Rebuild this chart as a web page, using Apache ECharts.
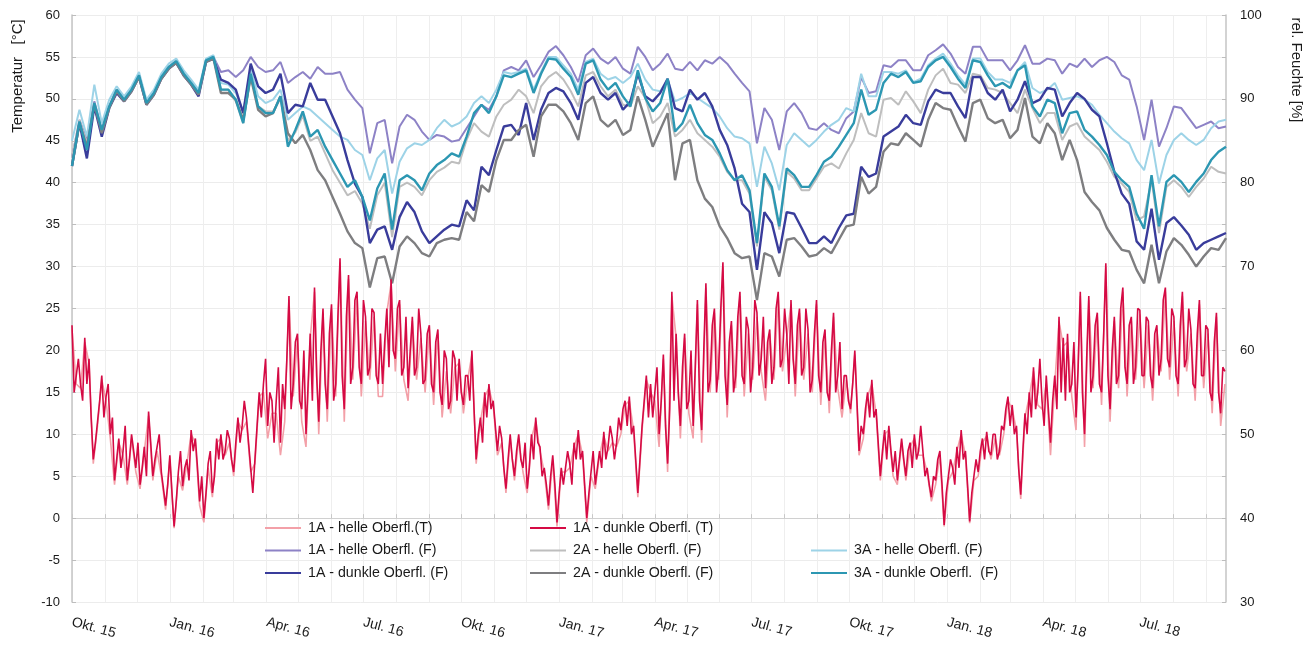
<!DOCTYPE html>
<html><head><meta charset="utf-8">
<script src="https://cdn.jsdelivr.net/npm/echarts@6/dist/echarts.min.js"></script>
<style>html,body{margin:0;padding:0;background:#fff}#c{width:1309px;height:650px}</style>
</head><body><div id="c"></div>
<script>
// ---- time frame ----
const startDateUTC = [2015, 9, 1];   // 1 Oct 2015
const endDateUTC = [2018, 8, 20];    // 20 Sep 2018
const tempDarkStepDays = 2;          // dark-surface temperature every 2 days
const tempLightStepDays = 4;         // light-surface temperature every 4 days
const humStepDays = 7;               // humidity readings every 7 days

// ---- x tick labels (quarter starts) ----
const tickDates = ['2015-10-01','2016-01-01','2016-04-01','2016-07-01','2016-10-01','2017-01-01','2017-04-01','2017-07-01','2017-10-01','2018-01-01','2018-04-01','2018-07-01'];
const tickLabels = ['Okt. 15','Jan. 16','Apr. 16','Jul. 16','Okt. 16','Jan. 17','Apr. 17','Jul. 17','Okt. 17','Jan. 18','Apr. 18','Jul. 18'];

// ---- series names ----
const names = {
  tHell1A: '1A - helle Oberfl.(T)',
  tDunkel1A: '1A - dunkle Oberfl. (T)',
  fHell1A: '1A - helle Oberfl. (F)',
  fHell2A: '2A - helle Oberfl. (F)',
  fHell3A: '3A - helle Oberfl. (F)',
  fDunkel1A: '1A - dunkle Oberfl. (F)',
  fDunkel2A: '2A - dunkle Oberfl. (F)',
  fDunkel3A: '3A - dunkle Oberfl.  (F)'
};

// ---- temperature [°C] ----
const temp1A_dunkel = [
 23,15,17,19,16,14,21.5,16,19,12,7,9,11.5,14,17,12,14.5,16,10,12,4.5,7,9.5,6,8,11,4.5,7,10,8,6,9,4,6,8.5,5,12.7,9,5,7,8.5,10,5.5,3.5,1.5,4,7.5,3,-1,2,5.5,8,3.8,6,7,4.5,10.5,8,9.5,6,2,5,0,3,6.5,8,3,5,9.5,7,10,7,8,10.5,9.5,7,5.5,9,12,9,11,14,12,9,6,3,7,11,15,12,
 16,19,11,15,14,9,14,18,9,16,13,19,26.5,13,16,21,22,14,13,20,10,16,22,14,27.5,17,11.5,20,25,16,13,22,25.5,14,16,24,31,17,13,24,29,16,18,26,27,18,16,26,24,17,18,25,24.5,17,16,22,16,21,25,18,28.5,20,19,25,26,17,18,24,15.5,20,24,17,18,25,22,16,16.5,22,23,16,15,21,22.5,15,13.5,20,19,13,14,20,19,14,
 19,15,13.5,17,17,14,20,13,7,10,12,9,15,12,16,13,14,11,8,11,9.5,6,3.5,7,10,7,5,8,10,7,6,9,3.5,6,10,7,12,9,8.5,5,6,4,1.5,5,7.5,4,-0.5,3,6,4,6,8,6.5,4,9,7,10.5,7,8,4,0,3,5.5,8,4,6,8,6,10.3,7,8.5,11,9.5,7,9,12,10.5,13,14,11,14.5,10,11,7,3,7,11,14,17,12,
 16,12,15,18,10,14,19.5,11,6.5,13,27,14,22,15,11,18,22,13,14,20,11,18,26,14,10.5,20,28,15,16.5,23,25,15,18,25,30.5,17,13.5,21,23.5,15,17,24,27,17,16,24,22.5,15,18,26,24.5,17,19,24,15.5,21,22.5,16,18,25,27,18,19,25,22,16,26,19,16,23,25,17,18,25,22.5,15,16.5,22,26,17,15,21,22.5,15,14,20,24.5,15,17,21,13,17,
 17,14,13,16,20,14,8,11,10,13,15,12,16.5,12,13,9,5,8,10.5,7,11,8,5.5,8,4.5,7,9.5,7,5,8,9,6,10,7,8,11,8,5,6,4,2.5,5,4.5,7,8,4,-0.8,3,5,7,6,4,8.5,6,10.5,7,8,4,-0.4,3,5,7,5.5,8,9.5,7,10.3,8,7.5,10,10,7,8,11,10.5,13,14.5,11,13.5,10,11,6,2.8,8,12.5,10,15,12,18,13,
 15,19,14,11,17,13,9,14,17,13,24,15,21.5,14,22,15,16,21,12,18,27,15,10,19,26.5,15,17,23,24.5,16,15,22,30.4,17,13,20,24,16,17,25,27.5,18,16,23,24,16,18,25,24.8,17,17,24,23.5,17,15.5,22,23,17,19,26,27.5,19,18,25,24,17,16,23,27,18,19,25,22.5,16,15.5,22,26,17,17,23,22.5,15,14,21,24.5,15,12.5,18,17.5
];
const temp1A_hell = [
 22.5,16,15.5,21,18.5,6.5,11,16.5,14,9.5,4,9,7.5,4,9.5,5.5,3.5,8,12.2,4.5,8,5,1,7,-1.2,5,3.3,6.5,10,9,1.5,-0.5,6,2.5,9,9.5,7.5,9,5,11.5,10.5,11.5,5.5,6.5,14.5,
 15,9.5,12.5,12.5,7.5,11.5,26,14.5,21.5,11.5,8.5,21.5,27,10,24.5,11.5,25,14.5,30.5,11.5,28.5,16.5,26.5,14.5,23.5,16.5,24,14.5,14.5,24.5,28,17.5,25.5,16.5,14,23.5,16.5,21.5,15,22.5,13.5,22,12,17.5,12.5,18,
 18.5,12.5,16.5,19.5,6.5,11.5,14.5,15.5,13.5,7.5,9,3,9.5,4.5,9.5,5.5,3,9.5,11.5,8,5.5,1,7,-1,5.5,5.5,6,8.5,10,7.5,-0.5,5,3.5,7.5,9.8,8,9,8.5,10,13.5,14,10.5,2.5,10.5,16.5,
 15,14,8.5,19,5.5,26.5,21.5,9.5,21.5,12.5,9.5,25.5,9,27.5,15,24.5,16.5,30,12,23,15.5,26.5,14.5,22,16.5,24,17.5,14,22,16.5,26.5,17.5,21.5,25.5,14.5,24.5,16.5,22,15,25.5,13.5,22,12.5,24,15.5,12,
 16.5,12.5,19.5,7.5,9.5,14.5,16,12.5,4.5,10,10.5,5,4,9,4.5,8.5,9.5,7.5,7.5,5.5,2,4,7.5,-1,4.5,5.5,8,10,7.5,-0.6,4.5,5,9,9.8,7,9.5,7.5,10,14,13,10.5,2.3,12,14.5,17.5,
 13.5,13,16,7.5,16,23.5,20.5,21,14.5,10.5,26.5,8.5,26,15.5,24,13.5,30,11.5,23.5,15.5,27,14.5,23.5,16.5,24.3,15.5,23,14,22.5,17.5,27,16.5,23.5,14.5,26.5,17.5,22,14,25.5,15.5,22,12.5,24,11,16
];

// ---- relative humidity [%], every 7 days ----
const rh1A_hell = [
 83,87.5,85.1,89.7,86.3,89.1,91.1,89.9,91.1,92.8,89.5,90.7,92.6,93.8,94.5,93,91.9,90.7,94.6,95,93.2,93.4,92.6,93.4,95,93.8,
 93.2,93.4,94.4,91.9,92.6,93.2,92.4,93.8,93,93,93.2,91.1,89.9,88.9,83.5,87.1,87.5,82.3,86.7,88.1,87.5,86.1,85.1,85.7,85.5,84.9,
 85.1,86.5,87.9,89.3,88.7,90.3,93.4,93.8,93.4,94.6,92.6,94,95.6,96.3,95.2,93.8,92,95.2,96,94.8,94.2,95,93.6,93,96.2,95,
 93.4,94.2,95.4,93.6,93.4,94.4,93.4,94.6,94.2,95,94.2,93,91.9,90.9,84.7,88.9,87.5,83.9,88.5,89.5,88.3,86.5,86.3,87.1,86.3,85.9,
 87.7,88.5,92.6,90.7,90.9,94,93.8,94.6,94.6,93.4,93.4,95.2,95.8,96.5,95.4,93.8,93,96.2,96.2,94.6,94.6,94.6,93.4,94.6,96.4,94.2,
 94.2,94.8,94.6,93,94.2,93.8,94.8,93.8,94.6,95,94.4,92.8,92.3,89.1,85.1,89.9,84.3,86.5,89.1,88.9,87.7,86.5,86.9,87.3,86.5,86.7
];
const rh2A_hell = [
 83,87.5,84.7,89.5,86.1,89.1,91.1,89.9,91.1,92.8,89.5,90.7,92.6,93.8,94.5,93,91.9,90.7,94.6,95,91.1,91.1,89.7,87.1,92.8,89.1,
 88.5,88.5,90,85,86,88,85,85.5,83.5,81.5,80,78.5,79,77.5,74.5,78.5,80,73.5,79.5,80,79.5,78.5,80.3,81.3,81.8,82.5,
 82.3,85.1,87.1,86.1,85.5,87.9,89.3,89.9,91.1,90.3,88.3,91.5,92.6,93.2,92.3,90.9,89.1,92.8,93.2,91.5,90.3,91.1,89.3,89.1,91.5,90.1,
 87.1,87.9,89.5,85.5,86.3,87.5,85.9,85.1,84.3,83.1,81.3,80.3,80.3,78.7,72.4,80.7,79.1,74.4,81.3,80.5,79.1,79.1,80.5,81.9,82.3,81.7,
 83.5,85.1,88.3,85.9,85.5,89.9,90.1,89.3,90.9,89.7,88.3,91.1,92.8,93.6,91.9,91.7,90.7,93,92.8,91.3,91.1,90.7,89.5,88.3,91.1,88.9,
 87.1,88.3,88.3,85.1,86.7,87.1,85.5,84.7,83.9,82.5,80.7,79.9,78.9,75.5,76,80.3,74,79.5,80.3,79.5,78.3,79.5,80.5,81.9,81.3,81.1
];
const rh3A_hell = [
 85,88.7,85.5,91.7,87.1,89.9,91.5,90.3,91.5,93.2,89.9,91.1,93,94.2,94.8,93.4,92.3,91.1,94.8,95.2,91.9,91.7,90.7,88.5,93.6,90.3,
 89.5,89.9,91.1,87.5,88.3,89.1,88.7,87.9,87.1,86.3,85.5,85.1,83.9,83.3,80.3,82.9,83.9,78.7,82.5,84.1,84.7,84.5,85.1,86.5,87.5,86.7,
 87.1,87.9,89.5,90.3,89.5,91.1,93.2,93,93.2,93.6,91.1,93.2,95,95,94,93,91.1,94.4,94.8,93,92.3,92.6,91.9,92.6,94.2,92.3,
 91.1,90.9,92.3,89.7,90.1,90.7,90.1,89.5,88.9,87.9,86.5,85.5,85.3,84.7,79.5,84.3,82.3,79.1,84.5,85.9,85.1,84.3,85.1,86.1,86.9,87.5,
 88.9,88.5,93,90.3,90.3,93.2,93.2,93,93.4,92,92.4,94,94.8,95.4,94.2,92.8,91.7,94.8,94.8,93.2,92.3,92.3,91.9,93.4,94.4,91.3,
 90.7,91.1,91.9,89.9,90.1,90.3,89.9,89.3,88.1,87.1,86.1,85.3,84.7,82.7,81.5,85.1,79.9,83.3,85.1,85.9,85.1,84.5,85.1,86.5,87.3,87.5
];
const rh1A_dunkel = [
 82,87.1,82.9,89.1,85.5,88.9,90.7,89.7,90.9,92.6,89.3,90.5,92.4,93.6,94.3,92.8,91.7,90.3,94.4,94.8,92.3,91.9,91.1,88.3,94.2,91.5,
 90.7,91.1,93,88.3,89.3,89.1,91.9,89.9,89.9,87.9,85.9,82.7,79.9,78.3,72.8,74.4,74.8,72,75.9,77.7,76.5,74.2,72.8,73.6,74.4,75,
 74.8,77.9,76.7,81.9,80.9,83.9,86.7,86.9,85.7,89.5,85.1,88.7,90.7,91.3,90.9,89.5,87.5,91.9,92.6,90.7,89.9,90.7,88.7,89.7,93,90.3,
 89.7,90.7,92.4,88.9,88.5,91.1,89.9,90.7,89.1,86.3,84.5,81.7,77.5,76.5,69.6,76.5,75.2,71.6,76.5,76.3,74.6,72.8,72.8,73.6,72.8,74.6,
 76.1,76.3,81.9,80.7,81.1,85.5,86.1,86.7,88.1,87.1,86.9,89.7,91.1,90.7,90.7,89.1,87.7,92.6,92.6,90.7,89.9,91.1,88.5,89.9,92.1,89.5,
 89.9,91.3,91.1,87.9,89.5,90.7,90,88.7,87.9,84.7,81.3,78.7,77.5,73,72,76.9,70.8,75.2,75.9,74.9,73.8,72,72.8,73.2,73.6,74
];
const rh2A_dunkel = [
 82,87.1,84.3,89.3,85.9,88.9,90.9,89.7,90.9,92.6,89.3,90.5,92.4,93.6,94.3,92.8,91.7,90.5,94.4,94.8,90.7,90.7,89.9,87.5,92.6,88.7,
 87.9,88.3,90.3,85.9,84.7,85.7,83.9,81.5,80.3,78.3,76.3,74.2,72.8,72.2,67.5,71,71.2,68,72.4,73.6,72.8,71.6,71.2,72.8,73.2,73.4,
 73.2,76.5,75.4,79.7,78.9,82.7,85.1,85.1,86.3,86.9,83.1,87.9,89.3,89.3,88.5,87.1,85.1,89.5,90.3,87.5,86.7,87.5,85.7,86.3,90.3,87.5,
 84.3,86.3,88.3,80.3,84.7,85.1,80.3,78.1,77.1,74.8,73.4,71.6,71,71.2,66,71.6,71.2,68.8,73.2,73.4,72.4,71.2,71.4,72.2,71.6,73.2,
 74.8,75,80.7,78.7,79.5,83.7,84.7,84.5,85.9,85.1,84.3,87.5,89.5,88.9,88.7,86.7,84.9,89.5,89.9,87.7,87.1,87.5,85.3,86.3,90.1,85.5,
 84.7,87.1,85.9,82.7,85.1,82.7,78.9,77.7,76.7,74.6,73.2,72,71.8,69.6,68,72.6,68,71.8,73.4,72.6,71.4,70,71.2,72.2,72,73.4
];
const rh3A_dunkel = [
 82,87.3,83.9,89.5,86.3,89.1,91.1,89.9,91.1,92.8,89.5,90.7,92.6,93.8,94.5,93,91.9,90.7,94.6,95,91.1,91.1,89.9,87.1,93,89.1,
 88.3,88.3,90.3,84.3,86.3,88.5,85.5,86.3,84.3,82.7,81.1,79.5,80.3,78.3,75.5,79.3,81.1,74.4,80.3,80.9,80.3,79.1,81.1,82.1,82.7,83.5,
 83.1,85.5,88.3,89.3,88.3,90.3,92.8,92.6,93,93.4,90.7,93,94.8,94.7,93.6,92.6,90.5,94.2,94.6,92.3,91.1,91.9,90.3,89.1,93.4,90.1,
 88.5,89.5,92.4,86.1,87.1,89.3,87.1,85.7,85.1,83.5,81.5,80.3,80.9,79.1,72.8,81.1,79.5,74.8,81.7,80.9,79.5,79.5,80.9,82.5,83.1,84.3,
 85.7,87.1,91.1,88.1,88.7,91.9,93,92.6,93.2,91.9,92.1,93.8,94.6,95,93.8,92.4,91.3,94.6,94.4,92.8,91.5,91.9,91.3,93.4,94,89.1,
 87.9,89.9,89.5,85.9,88.3,88.5,86.3,85.5,84.5,83.3,81.3,80.3,79.5,76.3,74.5,80.9,74.8,80.1,80.9,80.1,78.9,80.1,81.1,82.7,83.7,84.3
];

// ---- build daily categories ----
const days = [];
for (let t = Date.UTC(...startDateUTC); t <= Date.UTC(...endDateUTC); t += 86400000) {
  days.push(new Date(t).toISOString().slice(0, 10));
}
const toPairs = (arr, step) => arr.map((v, i) => [i * step, v]);
const isMonthStart = (idx, val) => typeof val === 'string' && val.slice(8) === '01';
const tickSet = new Set(tickDates);

const FONT = '"Liberation Sans", Arial, sans-serif';
const TXT = '#1a1a1a';

const colors = {
  tHell1A: '#f3a0a8', tDunkel1A: '#d50a44',
  fHell1A: '#8d82c6', fHell2A: '#bebebe', fHell3A: '#9dd3e7',
  fDunkel1A: '#393c9b', fDunkel2A: '#7e7e80', fDunkel3A: '#2c97b2'
};

function line(key, data, step, yIdx, width) {
  return {
    name: names[key], type: 'line', yAxisIndex: yIdx, data: toPairs(data, step),
    showSymbol: false, symbol: 'none', smooth: false, silent: true,
    lineStyle: { color: colors[key], width: width }, itemStyle: { color: colors[key] }
  };
}

const legendBase = {
  orient: 'vertical', padding: 0, itemWidth: 36, itemHeight: 2, itemGap: 8.5,
  icon: 'rect', selectedMode: false,
  textStyle: { fontFamily: FONT, fontSize: 14.2, lineHeight: 14, color: TXT, padding: [0, 0, 0, 2] }
};

const chart = echarts.init(document.getElementById('c'), null, { renderer: 'canvas' });
chart.setOption({
  animation: false,
  backgroundColor: '#fff',
  grid: { left: 72, right: 83, top: 15, bottom: 48, containLabel: false },
  legend: [
    Object.assign({}, legendBase, { left: 265, top: 521, data: [names.tHell1A, names.fHell1A, names.fDunkel1A] }),
    Object.assign({}, legendBase, { left: 530, top: 521, data: [names.tDunkel1A, names.fHell2A, names.fDunkel2A] }),
    Object.assign({}, legendBase, { left: 811, top: 543.5, data: [names.fHell3A, names.fDunkel3A] })
  ],
  xAxis: {
    type: 'category', data: days, boundaryGap: false,
    axisLine: { show: true, lineStyle: { color: '#d0d0d0', width: 1 } },
    axisTick: { show: true, inside: true, length: 4, interval: isMonthStart, lineStyle: { color: '#c8c8c8' } },
    splitLine: { show: true, interval: isMonthStart, lineStyle: { color: '#eeeeee', width: 1 } },
    axisLabel: {
      interval: (idx, val) => tickSet.has(val),
      formatter: (val) => tickLabels[tickDates.indexOf(val)] || '',
      rotate: -15, margin: 20, fontFamily: FONT, fontSize: 14, color: TXT
    }
  },
  yAxis: [
    {
      type: 'value', min: -10, max: 60, interval: 5, position: 'left',
      axisLine: { show: true, lineStyle: { color: '#c4c4c4', width: 1.5 } },
      axisTick: { show: true, inside: true, length: 4, lineStyle: { color: '#bdbdbd' } },
      splitLine: { show: true, lineStyle: { color: '#ececec', width: 1 } },
      axisLabel: { margin: 12, fontFamily: FONT, fontSize: 13, color: TXT }
    },
    {
      type: 'value', min: 30, max: 100, interval: 10, position: 'right',
      axisLine: { show: true, lineStyle: { color: '#c4c4c4', width: 1.5 } },
      axisTick: { show: true, inside: true, length: 4, lineStyle: { color: '#bdbdbd' } },
      minorTick: { show: true, splitNumber: 2, length: 4, lineStyle: { color: '#bdbdbd' } },
      splitLine: { show: false },
      axisLabel: { margin: 14, fontFamily: FONT, fontSize: 13, color: TXT }
    }
  ],
  graphic: [
    { type: 'text', x: 18, y: 76, rotation: Math.PI / 2,
      style: { text: 'Temperatur   [°C]', font: '15px ' + FONT, fill: TXT, align: 'center', verticalAlign: 'middle' } },
    { type: 'text', x: 1296, y: 70, rotation: -Math.PI / 2,
      style: { text: 'rel. Feuchte [%]', font: '15px ' + FONT, fill: TXT, align: 'center', verticalAlign: 'middle' } }
  ],
  series: [
    line('fHell1A', rh1A_hell, humStepDays, 1, 2),
    line('fHell2A', rh2A_hell, humStepDays, 1, 2),
    line('fHell3A', rh3A_hell, humStepDays, 1, 2),
    line('fDunkel1A', rh1A_dunkel, humStepDays, 1, 2.4),
    line('fDunkel2A', rh2A_dunkel, humStepDays, 1, 2.4),
    line('fDunkel3A', rh3A_dunkel, humStepDays, 1, 2.4),
    line('tHell1A', temp1A_hell, tempLightStepDays, 0, 1.6),
    line('tDunkel1A', temp1A_dunkel, tempDarkStepDays, 0, 1.6)
  ]
});
</script>
</body></html>
